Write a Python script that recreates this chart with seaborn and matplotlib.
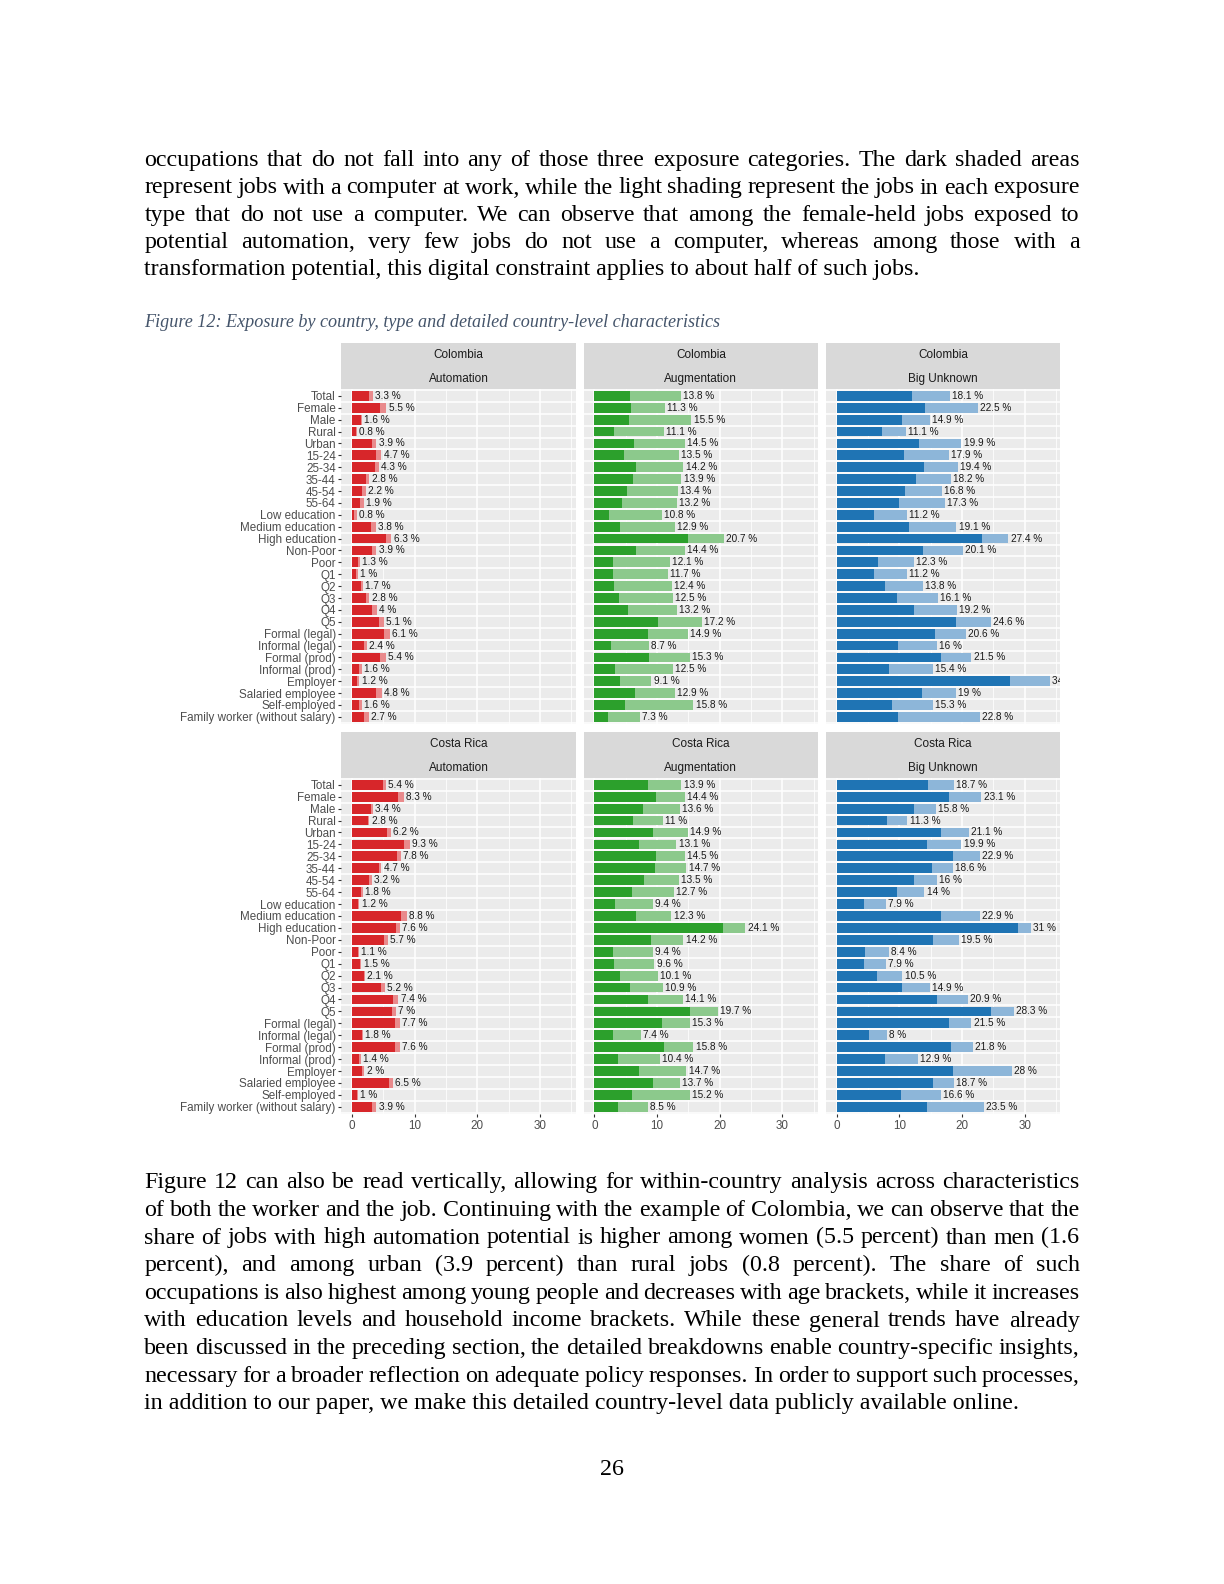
import matplotlib
matplotlib.use("Agg")
import matplotlib.pyplot as plt
import seaborn as sns
import pandas as pd
import numpy as np

# ---------------- data ----------------
cats = ["Total", "Female", "Male", "Rural", "Urban", "15-24", "25-34", "35-44",
        "45-54", "55-64", "Low education", "Medium education", "High education",
        "Non-Poor", "Poor", "Q1", "Q2", "Q3", "Q4", "Q5", "Formal (legal)",
        "Informal (legal)", "Formal (prod)", "Informal (prod)", "Employer",
        "Salaried employee", "Self-employed", "Family worker (without salary)"]

countries = ["Colombia", "Costa Rica"]
types = ["Automation", "Augmentation", "Big Unknown"]

# total share exposed (label value) and share with computer at work (dark part)
co_auto_total = [3.3, 5.5, 1.6, 0.8, 3.9, 4.7, 4.3, 2.8, 2.2, 1.9, 0.8, 3.8, 6.3, 3.9,
                 1.3, 1.0, 1.7, 2.8, 4.0, 5.1, 6.1, 2.4, 5.4, 1.6, 1.2, 4.8, 1.6, 2.7]
co_auto_pc = [2.7, 4.5, 1.4, 0.6, 3.2, 3.8, 3.6, 2.3, 1.65, 1.3, 0.4, 3.0, 5.4, 3.2,
              1.0, 0.7, 1.4, 2.2, 3.2, 4.3, 5.1, 2.0, 4.5, 1.2, 0.85, 3.9, 1.2, 1.9]
co_aug_total = [13.8, 11.3, 15.5, 11.1, 14.5, 13.5, 14.2, 13.9, 13.4, 13.2, 10.8, 12.9,
                20.7, 14.4, 12.1, 11.7, 12.4, 12.5, 13.2, 17.2, 14.9, 8.7, 15.3, 12.5,
                9.1, 12.9, 15.8, 7.3]
co_aug_pc = [5.7, 5.9, 5.5, 3.1, 6.3, 4.8, 6.6, 6.2, 5.2, 4.4, 2.3, 4.1, 14.9, 6.6,
             3.0, 2.9, 3.2, 3.9, 5.3, 10.2, 8.5, 2.7, 8.7, 3.3, 4.1, 6.5, 4.9, 2.2]
co_bu_total = [18.1, 22.5, 14.9, 11.1, 19.9, 17.9, 19.4, 18.2, 16.8, 17.3, 11.2, 19.1,
               27.4, 20.1, 12.3, 11.2, 13.8, 16.1, 19.2, 24.6, 20.6, 16.0, 21.5, 15.4,
               34.0, 19.0, 15.3, 22.8]
co_bu_pc = [12.0, 14.1, 10.5, 7.2, 13.2, 10.7, 13.9, 12.7, 10.9, 9.9, 6.0, 11.5, 23.2,
            13.8, 6.6, 5.9, 7.7, 9.6, 12.4, 19.0, 15.7, 9.8, 16.6, 8.3, 27.7, 13.6, 8.8, 9.8]

cr_auto_total = [5.4, 8.3, 3.4, 2.8, 6.2, 9.3, 7.8, 4.7, 3.2, 1.8, 1.2, 8.8, 7.6, 5.7,
                 1.1, 1.5, 2.1, 5.2, 7.4, 7.0, 7.7, 1.8, 7.6, 1.4, 2.0, 6.5, 1.0, 3.9]
cr_auto_pc = [4.9, 7.4, 3.1, 2.5, 5.6, 8.3, 7.2, 4.3, 2.8, 1.4, 1.0, 7.8, 7.1, 5.1,
              0.9, 1.3, 1.9, 4.6, 6.6, 6.4, 6.9, 1.6, 6.8, 1.2, 1.55, 5.9, 0.75, 3.2]
cr_aug_total = [13.9, 14.4, 13.6, 11.0, 14.9, 13.1, 14.5, 14.7, 13.5, 12.7, 9.4, 12.3,
                24.1, 14.2, 9.4, 9.6, 10.1, 10.9, 14.1, 19.7, 15.3, 7.4, 15.8, 10.4,
                14.7, 13.7, 15.2, 8.5]
cr_aug_pc = [8.6, 9.8, 7.7, 6.1, 9.4, 7.2, 9.9, 9.7, 8.0, 6.0, 3.3, 6.7, 20.5, 9.0,
             3.0, 3.1, 4.1, 5.7, 8.6, 15.2, 10.8, 3.0, 11.1, 3.8, 7.2, 9.3, 6.0, 3.7]
cr_bu_total = [18.7, 23.1, 15.8, 11.3, 21.1, 19.9, 22.9, 18.6, 16.0, 14.0, 7.9, 22.9,
               31.0, 19.5, 8.4, 7.9, 10.5, 14.9, 20.9, 28.3, 21.5, 8.0, 21.8, 12.9,
               28.0, 18.7, 16.6, 23.5]
cr_bu_pc = [14.6, 17.9, 12.4, 8.1, 16.7, 14.4, 18.5, 15.2, 12.3, 9.6, 4.4, 16.7, 28.9,
            15.3, 4.5, 4.4, 6.4, 10.5, 16.0, 24.7, 18.0, 5.2, 18.2, 7.7, 18.5, 15.4, 10.3, 14.4]

x_ticks = [0, 10, 20, 30]

para_top = [
    "occupations that do not fall into any of those three exposure categories. The dark shaded areas",
    "represent jobs with a computer at work, while the light shading represent the jobs in each exposure",
    "type that do not use a computer. We can observe that among the female-held jobs exposed to",
    "potential automation, very few jobs do not use a computer, whereas among those with a",
    "transformation potential, this digital constraint applies to about half of such jobs.",
]
caption = "Figure 12: Exposure by country, type and detailed country-level characteristics"
para_bottom = [
    "Figure 12 can also be read vertically, allowing for within-country analysis across characteristics",
    "of both the worker and the job. Continuing with the example of Colombia, we can observe that the",
    "share of jobs with high automation potential is higher among women (5.5 percent) than men (1.6",
    "percent), and among urban (3.9 percent) than rural jobs (0.8 percent). The share of such",
    "occupations is also highest among young people and decreases with age brackets, while it increases",
    "with education levels and household income brackets. While these general trends have already",
    "been discussed in the preceding section, the detailed breakdowns enable country-specific insights,",
    "necessary for a broader reflection on adequate policy responses. In order to support such processes,",
    "in addition to our paper, we make this detailed country-level data publicly available online.",
]
page_number = "26"

series = {
    ("Colombia", "Automation"): (co_auto_total, co_auto_pc),
    ("Colombia", "Augmentation"): (co_aug_total, co_aug_pc),
    ("Colombia", "Big Unknown"): (co_bu_total, co_bu_pc),
    ("Costa Rica", "Automation"): (cr_auto_total, cr_auto_pc),
    ("Costa Rica", "Augmentation"): (cr_aug_total, cr_aug_pc),
    ("Costa Rica", "Big Unknown"): (cr_bu_total, cr_bu_pc),
}
colors = {
    "Automation": ("#D7262A", "#E98A8C"),
    "Augmentation": ("#2CA02C", "#8CC98C"),
    "Big Unknown": ("#1F74B4", "#8DB6D9"),
}

# ---------------- figure ----------------
W, H = 1224, 1584
fig = plt.figure(figsize=(W / 100, H / 100), dpi=100)
plt.rcParams["font.family"] = ["Liberation Sans", "DejaVu Sans"]
fig.patch.set_facecolor("white")

pg = fig.add_axes([0, 0, 1, 1])
pg.set_xlim(0, W)
pg.set_ylim(H, 0)
pg.axis("off")
renderer = fig.canvas.get_renderer()

SERIF = ["Liberation Serif", "DejaVu Serif"]


def text_width(s, fs, style="normal"):
    t = pg.text(0, 0, s, fontsize=fs, family=SERIF, style=style)
    w = t.get_window_extent(renderer).width
    t.remove()
    return w


def justify_line(line, x0, x1, y, fs, last=False):
    words = line.split(" ")
    widths = [text_width(w, fs) for w in words]
    if last or len(words) == 1:
        pg.text(x0, y, line, fontsize=fs, family=SERIF, va="baseline", ha="left", color="black")
        return
    gap = (x1 - x0 - sum(widths)) / (len(words) - 1)
    x = x0
    for w, wd in zip(words, widths):
        pg.text(x, y, w, fontsize=fs, family=SERIF, va="baseline", ha="left", color="black")
        x += wd + gap


# body font size fitted to last line of first paragraph
fs_body = 17.3 * 775.0 / text_width(para_top[-1], 17.3)
X0, X1 = 144.4, 1079.6
top_y = [158.5, 186.0, 213.2, 240.4, 267.6]
for i, (line, yc) in enumerate(zip(para_top, top_y)):
    justify_line(line, X0, X1, yc + 7.5, fs_body, last=(i == len(para_top) - 1))

bot_y = [1180.6, 1208.5, 1236.0, 1263.5, 1291.5, 1319.0, 1346.7, 1374.3, 1401.7]
for i, (line, yc) in enumerate(zip(para_bottom, bot_y)):
    justify_line(line, X0, X1, yc + 7.5, fs_body, last=(i == len(para_bottom) - 1))

fs_cap = 13 * 574.0 / text_width(caption, 13, "italic")
pg.text(X0, 322.5, caption, fontsize=fs_cap, family=SERIF, style="italic",
        color="#44546A", va="center", ha="left")
pg.text(612, 1469.5, page_number, fontsize=fs_body, family=SERIF, va="center", ha="center")


def rect(x0, y0, x1, y1):
    return [x0 / W, 1 - y1 / H, (x1 - x0) / W, (y1 - y0) / H]


col_x = [(341.3, 575.6), (583.7, 818.0), (826.0, 1060.4)]
rows = [((343.4, 388.8), (388.8, 724.0)), ((732.0, 777.6), (777.6, 1114.0))]
n = len(cats)
xmax_data = max(max(v[0]) for v in series.values())
xlim = (-0.05 * xmax_data, 1.05 * xmax_data)

for r, country in enumerate(countries):
    (sy0, sy1), (py0, py1) = rows[r]
    for c, typ in enumerate(types):
        x0, x1 = col_x[c]
        # strip
        sax = fig.add_axes(rect(x0, sy0, x1, sy1))
        sax.set_facecolor("#D9D9D9")
        sax.set_xticks([])
        sax.set_yticks([])
        for sp in sax.spines.values():
            sp.set_visible(False)
        sax.text(0.5, 0.735, country, ha="center", va="center", fontsize=8.5,
                 color="#1A1A1A", transform=sax.transAxes)
        sax.text(0.5, 0.205, typ, ha="center", va="center", fontsize=8.5,
                 color="#1A1A1A", transform=sax.transAxes)

        ax = fig.add_axes(rect(x0, py0, x1, py1))
        ax.set_facecolor("#EBEBEB")
        tot, pc = series[(country, typ)]
        dark, light = colors[typ]
        df = pd.DataFrame({"cat": cats, "total": tot, "pc": pc})
        sns.barplot(data=df, y="cat", x="total", order=cats, color=light, width=0.82,
                    errorbar=None, ax=ax, orient="h", saturation=1, linewidth=0)
        sns.barplot(data=df, y="cat", x="pc", order=cats, color=dark, width=0.82,
                    errorbar=None, ax=ax, orient="h", saturation=1, linewidth=0)
        for i, v in enumerate(tot):
            ax.text(v + 0.35, i, f"{v:g} %", fontsize=7.2, color="#1A1A1A",
                    va="center", ha="left", clip_on=True)
        ax.set_xlim(*xlim)
        ax.set_ylim(n - 1 + 0.6, -0.6)
        ax.set_axisbelow(True)
        ax.set_xticks(x_ticks)
        ax.set_xticks([5, 15, 25, 35], minor=True)
        ax.grid(which="major", axis="x", color="white", lw=1.1)
        ax.grid(which="minor", axis="x", color="white", lw=0.55)
        ax.grid(which="major", axis="y", visible=False)
        ax.hlines(np.arange(-0.5, n), xlim[0], xlim[1], colors="white", lw=1.1, zorder=0.6)
        for sp in ax.spines.values():
            sp.set_visible(False)
        ax.set_xlabel("")
        ax.set_ylabel("")
        ax.tick_params(which="minor", length=0)
        ax.tick_params(axis="both", which="major", colors="#333333", length=2.5, width=0.8,
                       labelsize=8.4, labelcolor="#4D4D4D", pad=1.5)
        if c == 0:
            ax.set_yticks(range(n))
            ax.set_yticklabels(cats)
        else:
            ax.set_yticks(range(n))
            ax.set_yticklabels([])
            ax.tick_params(axis="y", length=0)
        if r == 1:
            ax.set_xticklabels([str(t) for t in x_ticks])
        else:
            ax.set_xticklabels([])
            ax.tick_params(axis="x", length=0)

fig.savefig("out.png", dpi=100, facecolor="white")
